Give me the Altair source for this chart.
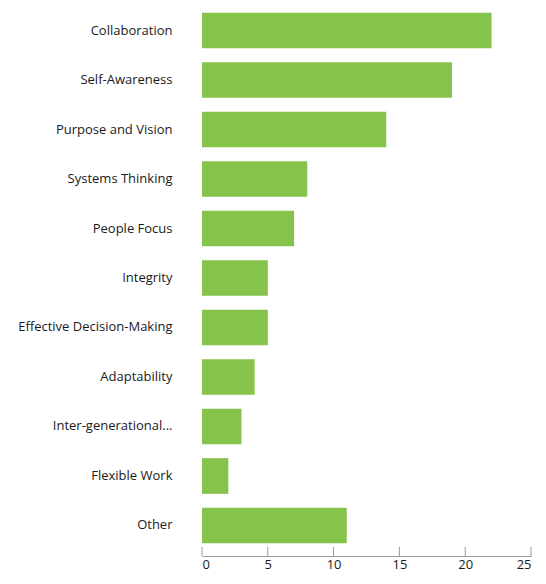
import altair as alt
import pandas as pd

categories = ["Collaboration", "Self-Awareness", "Purpose and Vision", "Systems Thinking",
              "People Focus", "Integrity", "Effective Decision-Making", "Adaptability",
              "Inter-generational...", "Flexible Work", "Other"]
values = [22, 19, 14, 8, 7, 5, 5, 4, 3, 2, 11]
tick_values = [0, 5, 10, 15, 20, 25]

df = pd.DataFrame({"category": categories, "value": values})
ticks = pd.DataFrame({"t": tick_values})

H = 536
W = 329
OFF = 10

x_scale = alt.Scale(domain=[0, 25], nice=False, zero=True)

bars = alt.Chart(df).mark_bar(color="#86C34B").encode(
    x=alt.X("value:Q", scale=x_scale,
            axis=alt.Axis(values=tick_values, title=None, grid=False, ticks=False,
                          domain=True, domainColor="#9a9a9a", domainWidth=1,
                          offset=OFF, labelPadding=2, labelFontSize=13,
                          labelColor="#1a1a1a", labelFont="Open Sans")),
    y=alt.Y("category:N", sort=None,
            scale=alt.Scale(paddingInner=0.279, paddingOuter=0.054),
            axis=alt.Axis(title=None, domain=False, ticks=False, labelPadding=30,
                          labelFontSize=13, labelColor="#1a1a1a", labelFont="Open Sans",
                          labelLimit=300)),
)

tick_marks = alt.Chart(ticks).mark_rule(color="#9a9a9a", strokeWidth=1).encode(
    x=alt.X("t:Q", scale=x_scale),
    y=alt.value(H + OFF - 9),
    y2=alt.value(H + OFF),
)

chart = alt.layer(bars, tick_marks).properties(
    width=W, height=H,
    autosize=alt.AutoSizeParams(type="none"),
    padding={"left": 194, "top": 2, "right": 7, "bottom": 29},
).configure_view(stroke=None)

chart.save("out.html", embed_options={"renderer": "svg", "actions": False})
